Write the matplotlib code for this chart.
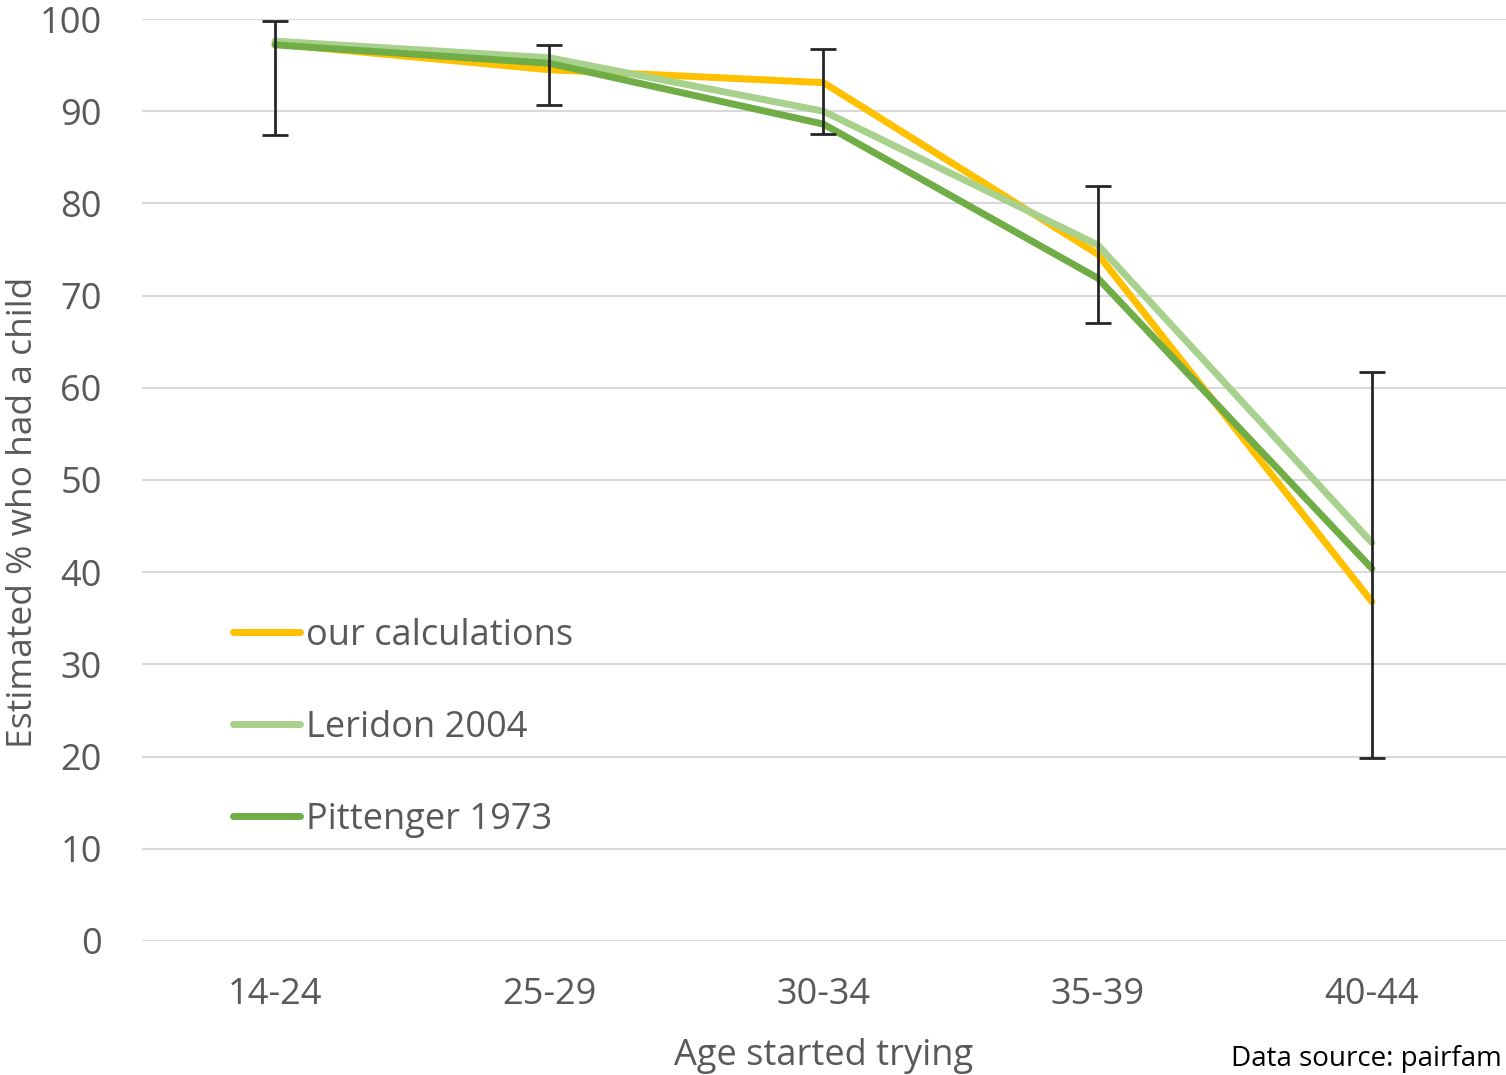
import matplotlib
matplotlib.use("Agg")
from matplotlib import pyplot as plt

# data
ages = ["14-24", "25-29", "30-34", "35-39", "40-44"]
ours = [97.3, 94.5, 93.1, 74.5, 36.8]
ours_low = [87.4, 90.7, 87.5, 67.0, 19.8]
ours_high = [99.8, 97.2, 96.7, 81.9, 61.7]
leridon = [97.6, 95.8, 90.0, 75.5, 43.2]
pittenger = [97.2, 95.2, 88.6, 71.9, 40.4]

plt.rcParams['font.family'] = ['Open Sans', 'DejaVu Sans']
gray = "#595959"
fs = 26

fig = plt.figure(figsize=(15.06, 10.75), dpi=100)
ax = fig.add_axes([0.0943, 0.1247, 0.9057, 0.8576])

x = list(range(len(ages)))
ax.plot(x, ours, color="#FFC000", lw=5, label="our calculations",
        solid_capstyle="round", solid_joinstyle="round", zorder=3)
ax.plot(x, leridon, color="#A9D18E", lw=5, label="Leridon 2004",
        solid_capstyle="round", solid_joinstyle="round", zorder=3)
ax.plot(x, pittenger, color="#70AD47", lw=5, label="Pittenger 1973",
        solid_capstyle="round", solid_joinstyle="round", zorder=3)

yerr = [[o - l for o, l in zip(ours, ours_low)],
        [h - o for o, h in zip(ours, ours_high)]]
ax.errorbar(x, ours, yerr=yerr, fmt="none", ecolor="#262626",
            elinewidth=2.0, capsize=9.5, capthick=2.0, zorder=4)

ax.set_xlim(-0.485, 4.489)
ax.set_ylim(0, 100)
ax.set_yticks(range(0, 101, 10))
ax.set_xticks(x)
ax.set_xticklabels(ages)
ax.grid(axis="y", color="#D9D9D9", lw=1.5)
ax.set_axisbelow(True)
for s in ax.spines.values():
    s.set_visible(False)
ax.tick_params(length=0, labelsize=fs, colors=gray)
ax.tick_params(axis="y", pad=29)
ax.tick_params(axis="x", pad=26)

# y label placed in figure coords so it stays inside the picture
fig.text(0.0155, 0.5237, "Estimated % who had a child", fontsize=25.5,
         color=gray, rotation=90, ha="center", va="center")
ax.set_xlabel("Age started trying", fontsize=fs, color=gray, labelpad=18)

leg = ax.legend(loc="upper left", bbox_to_anchor=(0.155, 0.425),
                bbox_transform=fig.transFigure, frameon=False, fontsize=fs,
                handlelength=1.85, handletextpad=0.15, labelspacing=1.55,
                borderpad=0, borderaxespad=0)
for t in leg.get_texts():
    t.set_color(gray)

fig.text(0.997, 0.002, "Data source: pairfam", fontsize=20, color="black",
         ha="right", va="bottom")

fig.savefig("out.png", dpi=100)
